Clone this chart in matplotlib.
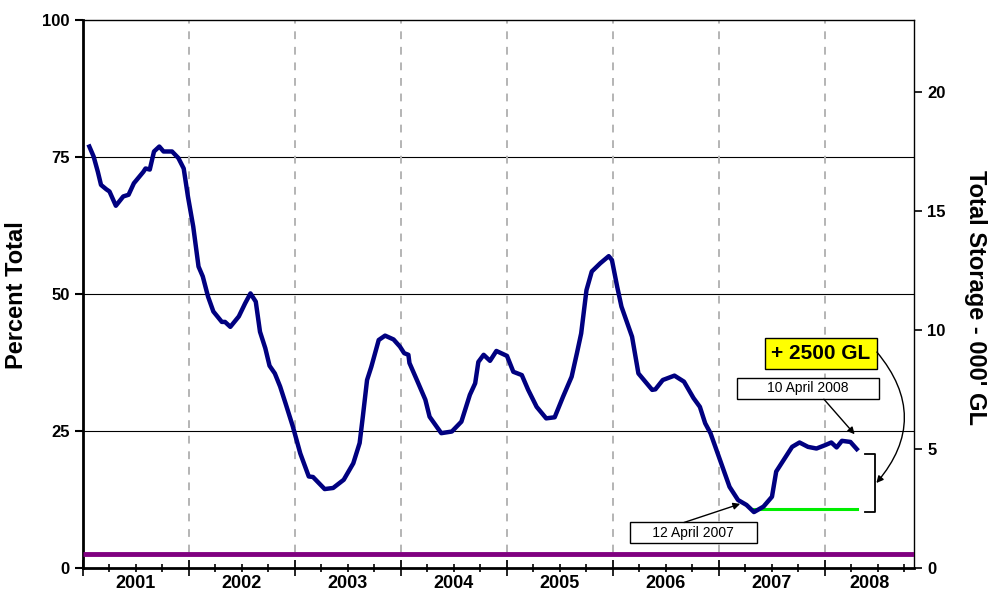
import matplotlib
matplotlib.use("Agg")
import matplotlib.pyplot as plt
import numpy as np

plt.rcParams['font.family'] = ['Liberation Sans', 'DejaVu Sans']

# storage as percent of total (decimal years)
dates = [2001.06, 2001.10, 2001.14, 2001.17, 2001.22, 2001.25, 2001.31, 2001.38,
         2001.43, 2001.48, 2001.57, 2001.59, 2001.63, 2001.67, 2001.72, 2001.76,
         2001.84, 2001.90, 2001.95, 2001.99, 2002.04, 2002.09, 2002.13, 2002.18,
         2002.23, 2002.31, 2002.34, 2002.39, 2002.47, 2002.53, 2002.58, 2002.63,
         2002.67, 2002.72, 2002.76, 2002.81, 2002.86, 2002.91, 2002.98, 2003.05,
         2003.13, 2003.17, 2003.28, 2003.36, 2003.46, 2003.55, 2003.61, 2003.64,
         2003.68, 2003.72, 2003.79, 2003.85, 2003.93, 2003.99, 2004.03, 2004.07,
         2004.08, 2004.15, 2004.23, 2004.27, 2004.38, 2004.48, 2004.57, 2004.65,
         2004.70, 2004.73, 2004.78, 2004.84, 2004.90, 2005.00, 2005.06, 2005.14,
         2005.20, 2005.28, 2005.37, 2005.45, 2005.53, 2005.61, 2005.66, 2005.70,
         2005.75, 2005.80, 2005.88, 2005.96, 2005.99, 2006.04, 2006.08, 2006.18,
         2006.24, 2006.37, 2006.40, 2006.47, 2006.58, 2006.67, 2006.76, 2006.82,
         2006.87, 2006.92, 2007.01, 2007.10, 2007.18, 2007.26, 2007.33, 2007.42,
         2007.50, 2007.54, 2007.61, 2007.69, 2007.76, 2007.84, 2007.92, 2008.00,
         2008.06, 2008.11, 2008.16, 2008.24, 2008.30]
pct = [76.9, 75.1, 72.3, 69.9, 69.1, 68.7, 66.1, 67.8,
       68.1, 70.2, 72.3, 72.9, 72.7, 76.0, 76.9, 76.0,
       76.0, 74.8, 72.9, 67.8, 62.3, 55.0, 53.2, 49.5,
       46.8, 44.9, 44.9, 44.0, 45.9, 48.3, 50.1, 48.6,
       43.1, 40.1, 36.9, 35.5, 33.1, 30.1, 25.8, 20.9,
       16.7, 16.6, 14.4, 14.6, 16.1, 19.1, 22.8, 27.6,
       34.3, 36.7, 41.6, 42.4, 41.7, 40.4, 39.2, 38.9,
       37.4, 34.3, 30.7, 27.6, 24.6, 24.9, 26.7, 31.6,
       33.7, 37.6, 38.9, 37.8, 39.6, 38.7, 35.8, 35.2,
       32.5, 29.4, 27.3, 27.5, 31.3, 34.9, 39.2, 42.8,
       50.7, 54.1, 55.6, 56.9, 56.2, 51.3, 47.7, 42.2,
       35.5, 32.5, 32.6, 34.3, 35.1, 34.0, 31.0, 29.4,
       26.4, 24.6, 19.7, 14.8, 12.4, 11.5, 10.2, 11.2,
       13.0, 17.6, 19.7, 22.1, 22.9, 22.1, 21.8, 22.4,
       22.9, 22.0, 23.2, 23.0, 21.7]

dead_storage = 2.6          # purple line, % of total
april07_level = 10.8        # green line, % of total
april07_start, april08_end = 2007.33, 2008.30

years = [2001, 2002, 2003, 2004, 2005, 2006, 2007, 2008]
xmin, xmax = 2001.0, 2008.84
right_max = 23.05           # 000' GL at 100 %

fig = plt.figure(figsize=(9.88, 5.94), dpi=100)
ax = fig.add_axes([0.084, 0.0438, 0.8411, 0.9226])

ax.set_xlim(xmin, xmax)
ax.set_ylim(0, 100)

# grid
for y in [25, 50, 75]:
    ax.axhline(y, color='black', lw=0.8, zorder=1)
for yr in years[1:]:
    ax.axvline(yr, color='#b4b4b4', lw=1.4, ls=(0, (4, 4)), zorder=1)

ax.plot([xmin, xmax], [dead_storage, dead_storage], color='#800080', lw=3.5,
        zorder=3, solid_capstyle='butt')
ax.plot([april07_start, april08_end], [april07_level, april07_level],
        color='#00ee00', lw=2.2, zorder=3)
ax.plot(dates, pct, color='#000080', lw=3.2, zorder=4, solid_joinstyle='round')

# axes styling
for s in ['left', 'bottom']:
    ax.spines[s].set_linewidth(2)
for s in ['top', 'right']:
    ax.spines[s].set_linewidth(1)

ax.set_yticks([0, 25, 50, 75, 100])
ax.set_yticklabels(['0', '25', '50', '75', '100'], fontweight='bold', fontsize=12)
ax.tick_params(axis='y', direction='out', length=6, width=1.5)

ax.set_xticks(years)
ax.set_xticklabels([])
ax.set_xticks(np.arange(2001, 2008.84, 0.25), minor=True)
ax.tick_params(axis='x', which='major', direction='inout', length=12, width=1.2)
ax.tick_params(axis='x', which='minor', direction='inout', length=6, width=1.2)

for yr in years:
    xc = yr + 0.5 if yr + 1 <= xmax else (yr + xmax) / 2
    ax.text(xc, -0.028, str(yr), transform=ax.get_xaxis_transform(),
            ha='center', va='center', fontsize=13, fontweight='bold')

fig.text(16.5 / 988, 1 - 295 / 594, 'Percent Total', rotation=90, ha='center',
         va='center', fontsize=17, fontweight='bold')

ax2 = ax.twinx()
ax2.set_ylim(0, right_max)
ax2.set_yticks([0, 5, 10, 15, 20])
ax2.set_yticklabels(['0', '5', '10', '15', '20'], fontweight='bold', fontsize=12)
ax2.tick_params(axis='y', direction='out', length=6, width=1.2)
for s in ax2.spines.values():
    s.set_visible(False)
fig.text(975 / 988, 1 - 297 / 594, "Total Storage - 000' GL", rotation=-90,
         ha='center', va='center', fontsize=17, fontweight='bold')

# annotations
arrow = dict(arrowstyle='-|>', color='black', lw=1, mutation_scale=10,
             shrinkA=0, shrinkB=0)
ax.text(2006.76, 6.4, '     12 April 2007     ', ha='center', va='center',
        fontsize=10, zorder=6,
        bbox=dict(boxstyle='square,pad=0.25', fc='white', ec='black', lw=1))
ax.annotate('', xy=(2007.20, 11.7), xytext=(2006.67, 8.3), arrowprops=arrow, zorder=6)

ax.text(2007.84, 32.8, '       10 April 2008       ', ha='center', va='center',
        fontsize=10, zorder=6,
        bbox=dict(boxstyle='square,pad=0.25', fc='white', ec='black', lw=1))
ax.annotate('', xy=(2008.28, 24.4), xytext=(2007.99, 30.8), arrowprops=arrow, zorder=6)

ax.text(2007.96, 39.1, '+ 2500 GL', ha='center', va='center',
        fontsize=15, fontweight='bold', zorder=6,
        bbox=dict(boxstyle='square,pad=0.3', fc='#ffff00', ec='black', lw=1))
ax.annotate('', xy=(2008.485, 15.5), xytext=(2008.49, 39.4), zorder=6,
            arrowprops=dict(arrowstyle='-|>', color='black', lw=1, mutation_scale=10,
                            shrinkA=0, shrinkB=0, connectionstyle='arc3,rad=-0.42'))

# bracket
bx, bx0, btop, bbot = 2008.47, 2008.375, 20.8, 10.2
ax.plot([bx0, bx, bx, bx0], [btop, btop, bbot, bbot], color='black', lw=1.3,
        zorder=6, clip_on=False)

fig.savefig('out.png', dpi=100)
